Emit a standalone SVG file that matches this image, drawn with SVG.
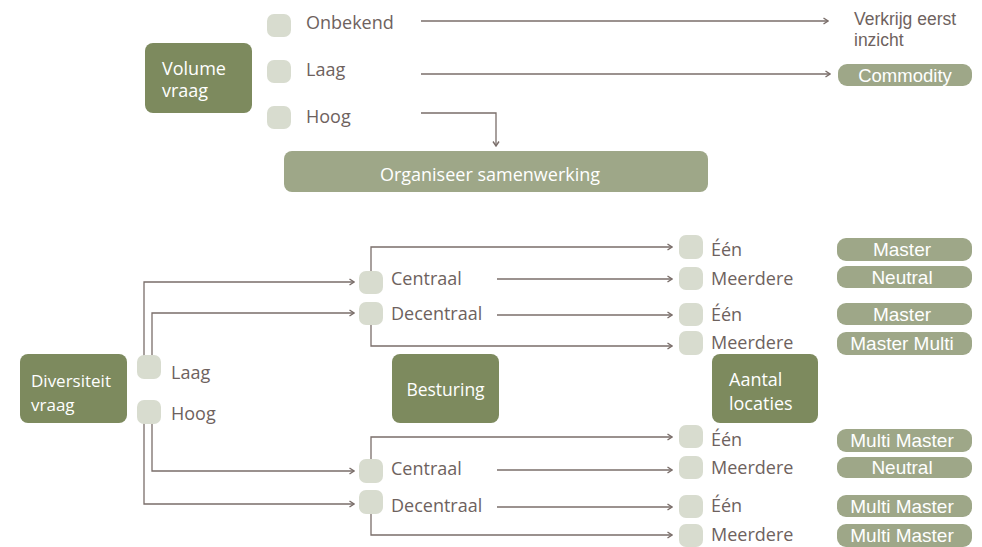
<svg xmlns="http://www.w3.org/2000/svg" width="982" height="547" viewBox="0 0 982 547">
  <defs>
    <marker id="chev" viewBox="0 0 6 8" refX="5.5" refY="4" markerWidth="6" markerHeight="8" markerUnits="userSpaceOnUse" orient="auto">
      <path d="M1,1 L5.5,4 L1,7" fill="none" stroke="#7a6e6a" stroke-width="1.4"/>
    </marker>
  </defs>
  <style>
    .box { fill: #7d8a5e; }
    .pill { fill: #9ea788; }
    .dot { fill: #d8dccf; }
    .wt { fill: #ffffff; font-family: "Open Sans", "DejaVu Sans", sans-serif; font-size: 18px; }
    .pt { fill: #ffffff; font-family: "Liberation Sans", Arial, sans-serif; font-size: 19px; text-anchor: middle; }
    .lbl { fill: #6e625e; font-family: "Open Sans", "DejaVu Sans", sans-serif; font-size: 18px; }
    .nar { fill: #6e625e; font-family: "Liberation Sans", Arial, sans-serif; font-size: 17.5px; }
    .ln { fill: none; stroke: #7a6e6a; stroke-width: 1.3; }
    .arr { marker-end: url(#chev); }
  </style>

  <!-- connectors -->
  <g id="connectors">
    <path class="ln arr" d="M421,21 H828"/>
    <path class="ln arr" d="M421,74 H830"/>
    <path class="ln arr" d="M421,113 H496 V146"/>

    <path class="ln arr" d="M144,356 V282 H354"/>
    <path class="ln arr" d="M152,356 V313 H354"/>
    <path class="ln arr" d="M152,423 V471 H354"/>
    <path class="ln arr" d="M144,423 V504 H354"/>

    <path class="ln arr" d="M371,271 V247 H672"/>
    <path class="ln arr" d="M371,325 V346 H672"/>
    <path class="ln arr" d="M497,279 H672"/>
    <path class="ln arr" d="M497,315 H672"/>

    <path class="ln arr" d="M371,459 V437 H672"/>
    <path class="ln arr" d="M371,514 V535 H672"/>
    <path class="ln arr" d="M497,470 H672"/>
    <path class="ln arr" d="M497,507 H672"/>
  </g>

  <!-- volume section -->
  <g id="volume-vraag">
    <rect class="box" x="145" y="43" width="107" height="70" rx="8"/>
    <text class="wt" x="162" y="75">Volume</text>
    <text class="wt" x="162" y="97">vraag</text>
  </g>
  <g id="vol-onbekend">
    <rect class="dot" x="267" y="14" width="24" height="23" rx="7"/>
    <text class="lbl" x="306" y="29">Onbekend</text>
  </g>
  <g id="vol-laag">
    <rect class="dot" x="267" y="60" width="24" height="23" rx="7"/>
    <text class="lbl" x="306" y="76">Laag</text>
  </g>
  <g id="vol-hoog">
    <rect class="dot" x="267" y="106" width="24" height="23" rx="7"/>
    <text class="lbl" x="306" y="123">Hoog</text>
  </g>
  <g id="verkrijg-inzicht">
    <text class="nar" x="854" y="25">Verkrijg eerst</text>
    <text class="nar" x="854" y="46">inzicht</text>
  </g>
  <g id="commodity">
    <rect class="pill" x="838" y="64" width="134" height="22" rx="9"/>
    <text class="pt" x="905" y="82" style="font-size:18.5px">Commodity</text>
  </g>
  <g id="organiseer">
    <rect class="pill" x="284" y="151" width="424" height="41" rx="8"/>
    <text class="wt" x="490" y="181" text-anchor="middle">Organiseer samenwerking</text>
  </g>

  <!-- diversity section -->
  <g id="diversiteit-vraag">
    <rect class="box" x="20" y="354" width="107" height="69" rx="8"/>
    <text class="wt" x="31" y="387" style="font-size:17px">Diversiteit</text>
    <text class="wt" x="31" y="411" style="font-size:17px">vraag</text>
  </g>
  <g id="div-laag">
    <rect class="dot" x="137" y="355" width="24" height="24" rx="7"/>
    <text class="lbl" x="171" y="379">Laag</text>
  </g>
  <g id="div-hoog">
    <rect class="dot" x="137" y="400" width="24" height="24" rx="7"/>
    <text class="lbl" x="171" y="420">Hoog</text>
  </g>
  <g id="besturing">
    <rect class="box" x="392" y="354" width="107" height="69" rx="8"/>
    <text class="wt" x="445.5" y="396" text-anchor="middle" style="font-size:17.5px">Besturing</text>
  </g>
  <g id="aantal-locaties">
    <rect class="box" x="712" y="354" width="106" height="69" rx="8"/>
    <text class="wt" x="729" y="386">Aantal</text>
    <text class="wt" x="729" y="410">locaties</text>
  </g>

  <!-- besturing options -->
  <g id="laag-centraal">
    <rect class="dot" x="359" y="271" width="24" height="23" rx="7"/>
    <text class="lbl" x="391" y="285">Centraal</text>
  </g>
  <g id="laag-decentraal">
    <rect class="dot" x="359" y="302" width="24" height="23" rx="7"/>
    <text class="lbl" x="391" y="320">Decentraal</text>
  </g>
  <g id="hoog-centraal">
    <rect class="dot" x="359" y="459" width="24" height="24" rx="7"/>
    <text class="lbl" x="391" y="475">Centraal</text>
  </g>
  <g id="hoog-decentraal">
    <rect class="dot" x="359" y="490" width="24" height="24" rx="7"/>
    <text class="lbl" x="391" y="512">Decentraal</text>
  </g>

  <!-- locatie options -->
  <g id="lc-een">
    <rect class="dot" x="679" y="235" width="24" height="24" rx="7"/>
    <text class="lbl" x="711" y="256">Één</text>
  </g>
  <g id="lc-meerdere">
    <rect class="dot" x="679" y="267" width="24" height="23" rx="7"/>
    <text class="lbl" x="711" y="285">Meerdere</text>
  </g>
  <g id="ld-een">
    <rect class="dot" x="679" y="303" width="24" height="23" rx="7"/>
    <text class="lbl" x="711" y="321">Één</text>
  </g>
  <g id="ld-meerdere">
    <rect class="dot" x="679" y="331" width="24" height="24" rx="7"/>
    <text class="lbl" x="711" y="349">Meerdere</text>
  </g>
  <g id="hc-een">
    <rect class="dot" x="679" y="425" width="24" height="23" rx="7"/>
    <text class="lbl" x="711" y="446">Één</text>
  </g>
  <g id="hc-meerdere">
    <rect class="dot" x="679" y="456" width="24" height="23" rx="7"/>
    <text class="lbl" x="711" y="474">Meerdere</text>
  </g>
  <g id="hd-een">
    <rect class="dot" x="679" y="495" width="24" height="23" rx="7"/>
    <text class="lbl" x="711" y="512">Één</text>
  </g>
  <g id="hd-meerdere">
    <rect class="dot" x="679" y="524" width="24" height="23" rx="7"/>
    <text class="lbl" x="711" y="541">Meerdere</text>
  </g>

  <!-- outcomes -->
  <g id="res-1">
    <rect class="pill" x="837" y="238" width="135" height="23" rx="9"/>
    <text class="pt" x="902" y="256">Master</text>
  </g>
  <g id="res-2">
    <rect class="pill" x="837" y="266" width="135" height="22" rx="9"/>
    <text class="pt" x="902" y="284">Neutral</text>
  </g>
  <g id="res-3">
    <rect class="pill" x="837" y="303" width="135" height="22" rx="9"/>
    <text class="pt" x="902" y="321">Master</text>
  </g>
  <g id="res-4">
    <rect class="pill" x="837" y="332" width="135" height="23" rx="9"/>
    <text class="pt" x="902" y="350">Master Multi</text>
  </g>
  <g id="res-5">
    <rect class="pill" x="837" y="429" width="135" height="23" rx="9"/>
    <text class="pt" x="902" y="447">Multi Master</text>
  </g>
  <g id="res-6">
    <rect class="pill" x="837" y="457" width="135" height="21" rx="9"/>
    <text class="pt" x="902" y="474">Neutral</text>
  </g>
  <g id="res-7">
    <rect class="pill" x="837" y="495" width="135" height="22" rx="9"/>
    <text class="pt" x="902" y="513">Multi Master</text>
  </g>
  <g id="res-8">
    <rect class="pill" x="837" y="524" width="135" height="23" rx="9"/>
    <text class="pt" x="902" y="542">Multi Master</text>
  </g>
</svg>
